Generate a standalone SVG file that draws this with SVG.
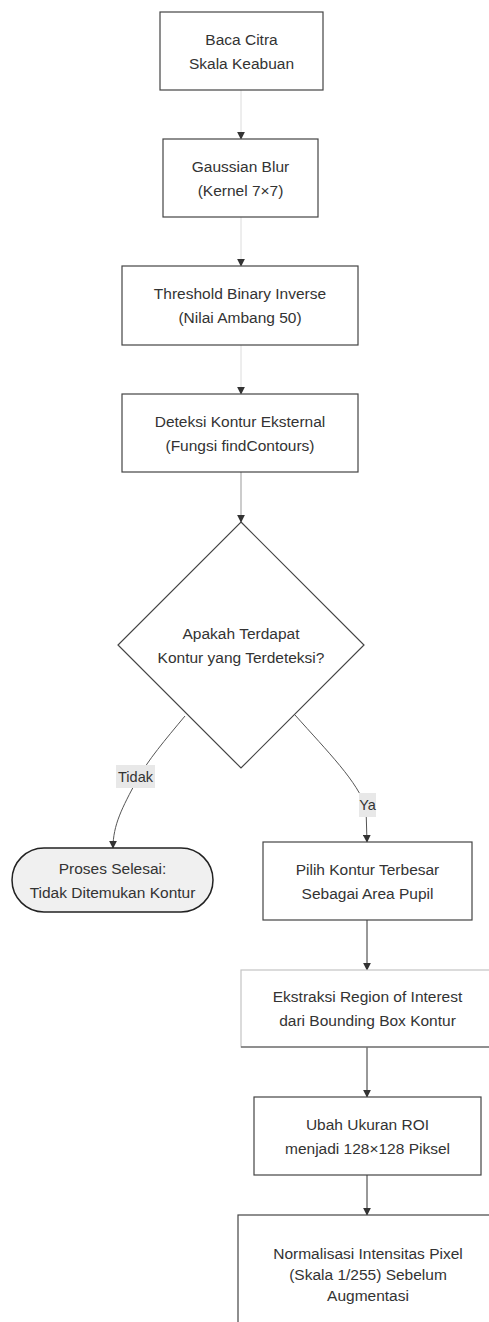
<svg xmlns="http://www.w3.org/2000/svg" width="489" height="1322" viewBox="0 0 489 1322">
<style>
.box{fill:#ffffff;stroke:#444;stroke-width:1.2}
.t{font-family:"Liberation Sans",Arial,sans-serif;font-size:15.5px;fill:#333;text-anchor:middle}
.lt{font-family:"Liberation Sans",Arial,sans-serif;font-size:14.5px;fill:#333;text-anchor:middle}
.e{fill:none;stroke-width:1}
.lbl{fill:#e8e8e8}
</style>
<defs>
<marker id="ah" viewBox="0 0 10 10" refX="9" refY="5" markerWidth="8" markerHeight="8" orient="auto" markerUnits="userSpaceOnUse">
<path d="M0,0 L10,5 L0,10 z" fill="#333"/>
</marker>
</defs>
<rect width="489" height="1322" fill="#ffffff"/>
<g id="connectors">
<path class="e" d="M241,90 L241,139" stroke="#dcdcdc" marker-end="url(#ah)"/>
<path class="e" d="M241,217 L241,266" stroke="#dcdcdc" marker-end="url(#ah)"/>
<path class="e" d="M241,345 L241,394" stroke="#dcdcdc" marker-end="url(#ah)"/>
<path class="e" d="M241,472 L241,522" stroke="#999" marker-end="url(#ah)"/>
<path class="e" d="M185,716 C165,740 148,760 137,780 C122,808 113,825 113,848" stroke="#555" marker-end="url(#ah)"/>
<path class="e" d="M295,715 C328,752 358,782 366,808 L367,842" stroke="#555" marker-end="url(#ah)"/>
<path class="e" d="M367,920 L367,970" stroke="#333" marker-end="url(#ah)"/>
<path class="e" d="M367,1047 L367,1097" stroke="#333" marker-end="url(#ah)"/>
<path class="e" d="M367,1175 L367,1215" stroke="#333" marker-end="url(#ah)"/>
<g id="label-tidak"><rect class="lbl" x="116" y="765" width="39" height="23"/><text class="lt" x="135.5" y="782">Tidak</text></g>
<g id="label-ya"><rect class="lbl" x="359" y="793" width="17" height="24"/><text class="lt" x="367.5" y="810">Ya</text></g>
</g>
<g id="n1"><rect class="box" x="160" y="12" width="163" height="78"/><text class="t" x="241.5" y="45">Baca Citra</text><text class="t" x="241.5" y="69">Skala Keabuan</text></g>
<g id="n2"><rect class="box" x="163" y="139" width="155" height="78"/><text class="t" x="240.5" y="172">Gaussian Blur</text><text class="t" x="240.5" y="196">(Kernel 7×7)</text></g>
<g id="n3"><rect class="box" x="122" y="266" width="236" height="79"/><text class="t" x="240" y="299">Threshold Binary Inverse</text><text class="t" x="240" y="323">(Nilai Ambang 50)</text></g>
<g id="n4"><rect class="box" x="122" y="394" width="236" height="78"/><text class="t" x="240" y="427">Deteksi Kontur Eksternal</text><text class="t" x="240" y="451">(Fungsi findContours)</text></g>
<g id="n5"><polygon class="box" points="241,522 364,645 241,768 118,645"/><text class="t" x="241" y="639">Apakah Terdapat</text><text class="t" x="241" y="663">Kontur yang Terdeteksi?</text></g>
<g id="n6"><rect x="12" y="848" width="201" height="64" rx="32" ry="32" fill="#f0f0f0" stroke="#222" stroke-width="1.5"/><text class="t" x="112.5" y="874">Proses Selesai:</text><text class="t" x="112.5" y="898">Tidak Ditemukan Kontur</text></g>
<g id="n7"><rect class="box" x="263" y="842" width="209" height="78"/><text class="t" x="367.5" y="875">Pilih Kontur Terbesar</text><text class="t" x="367.5" y="899">Sebagai Area Pupil</text></g>
<g id="n8"><rect class="box" x="241" y="970" width="253" height="77" style="stroke:#c4c4c4"/><line x1="241" y1="1047" x2="489" y2="1047" stroke="#444" stroke-width="1.2"/><text class="t" x="367.5" y="1002">Ekstraksi Region of Interest</text><text class="t" x="367.5" y="1026">dari Bounding Box Kontur</text></g>
<g id="n9"><rect class="box" x="254" y="1097" width="227" height="78"/><text class="t" x="367.5" y="1130">Ubah Ukuran ROI</text><text class="t" x="367.5" y="1154">menjadi 128×128 Piksel</text></g>
<g id="n10"><rect class="box" x="238" y="1215" width="260" height="120"/><text class="t" x="368" y="1259">Normalisasi Intensitas Pixel</text><text class="t" x="368" y="1280">(Skala 1/255) Sebelum</text><text class="t" x="368" y="1301">Augmentasi</text></g>
</svg>
